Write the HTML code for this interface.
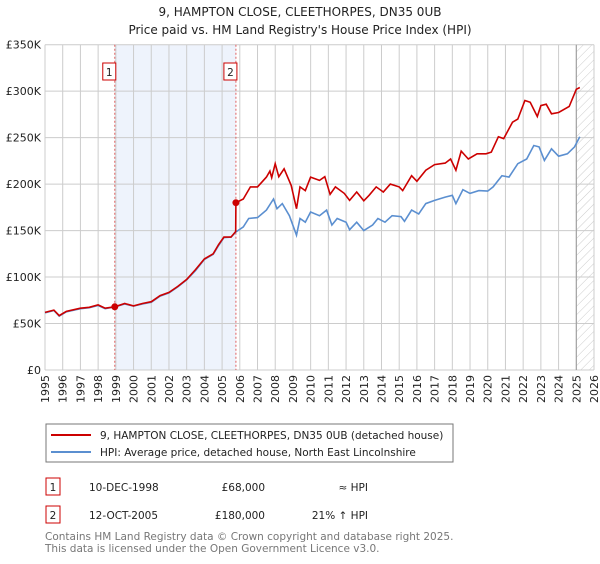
<!DOCTYPE html>
<html><head><meta charset="utf-8"><style>
body{margin:0;background:#fff;font-family:"DejaVu Sans","Liberation Sans",sans-serif;}
svg text{font-family:"DejaVu Sans","Liberation Sans",sans-serif;}
</style></head><body>
<svg id="c" width="600" height="560" xmlns="http://www.w3.org/2000/svg">
<defs><pattern id="hatch" width="6" height="6" patternUnits="userSpaceOnUse" patternTransform="rotate(45)"><line x1="0" y1="0" x2="0" y2="6" stroke="#ccc" stroke-width="1"/></pattern></defs>
<text x="300" y="16" text-anchor="middle" font-size="12" fill="#222">9, HAMPTON CLOSE, CLEETHORPES, DN35 0UB</text>
<text x="300" y="34" text-anchor="middle" font-size="12" fill="#222">Price paid vs. HM Land Registry's House Price Index (HPI)</text>
<g id="plot"></g>
<g>
<rect x="46" y="424" width="407" height="38" fill="#fff" stroke="#777"/>
<line x1="51" y1="435" x2="91" y2="435" stroke="#cc0000" stroke-width="2"/>
<text x="100" y="439" font-size="10.5" fill="#222">9, HAMPTON CLOSE, CLEETHORPES, DN35 0UB (detached house)</text>
<line x1="51" y1="452" x2="91" y2="452" stroke="#5b8fd0" stroke-width="2"/>
<text x="100" y="456" font-size="10.5" fill="#222">HPI: Average price, detached house, North East Lincolnshire</text>
</g>
<g font-size="10.5" fill="#222">
<rect x="46" y="478" width="14" height="17" fill="#fff" stroke="#cc0000"/><text x="53" y="491" text-anchor="middle">1</text>
<text x="89" y="491">10-DEC-1998</text><text x="265" y="491" text-anchor="end">£68,000</text><text x="368" y="491" text-anchor="end">≈ HPI</text>
<rect x="46" y="506" width="14" height="17" fill="#fff" stroke="#cc0000"/><text x="53" y="519" text-anchor="middle">2</text>
<text x="89" y="519">12-OCT-2005</text><text x="265" y="519" text-anchor="end">£180,000</text><text x="368" y="519" text-anchor="end">21% ↑ HPI</text>
</g>
<text x="45" y="540" font-size="10.5" fill="#777">Contains HM Land Registry data © Crown copyright and database right 2025.</text>
<text x="45" y="552" font-size="10.5" fill="#777">This data is licensed under the Open Government Licence v3.0.</text>
</svg>
<script>
const hpiYears=[1995,1995.5,1995.8,1996.2,1997,1997.5,1998,1998.4,1998.94,1999.5,2000,2000.5,2001,2001.5,2002,2002.5,2003,2003.5,2004,2004.5,2004.8,2005.1,2005.5,2005.78,2006.2,2006.5,2007,2007.5,2007.9,2008.1,2008.4,2008.8,2009.2,2009.4,2009.7,2010,2010.5,2010.9,2011.2,2011.5,2012,2012.2,2012.6,2013,2013.5,2013.8,2014.2,2014.6,2015.1,2015.3,2015.7,2016.1,2016.5,2017,2017.6,2018,2018.2,2018.6,2019,2019.5,2020,2020.3,2020.8,2021.2,2021.7,2022.2,2022.6,2022.9,2023.2,2023.6,2024,2024.5,2024.9,2025.2];
const hpiValues=[61.5,64,58,62.6,66,67,69.4,66,68,71,68.7,71,73,79.5,83,89.5,97,107,119,124.5,134,142.5,143,148.5,154,163,164,172,184,173.6,179,166,145,163,159,170,166,172,156,163,159,151,159,150,156,163,159,166,165,160,172,168,179,182.5,186,188,179,194,190,193,192.5,197,209,207.6,222,227,241.6,240,225.5,238,230,232.6,240,251];
const priceYears=[1995,1995.5,1995.8,1996.2,1997,1997.5,1998,1998.4,1998.94,1999.5,2000,2000.5,2001,2001.5,2002,2002.5,2003,2003.5,2004,2004.5,2004.8,2005.1,2005.5,2005.77,2005.78,2006.2,2006.6,2007,2007.5,2007.7,2007.8,2008,2008.2,2008.5,2008.9,2009.2,2009.4,2009.7,2010,2010.5,2010.8,2011.1,2011.4,2011.9,2012.2,2012.6,2013,2013.3,2013.7,2014.1,2014.5,2015,2015.2,2015.7,2016,2016.5,2017,2017.6,2017.9,2018.2,2018.5,2018.9,2019.4,2019.9,2020.2,2020.6,2020.9,2021.4,2021.7,2022.1,2022.4,2022.8,2023,2023.3,2023.6,2024,2024.6,2025,2025.2];
const priceValues=[62,64.5,58.5,63,66.5,67.5,70,66.5,68,71.5,69,71.5,73.5,80,83.5,90,97.5,108,119.5,125,135,143,143,149,180,184,197,197,207.6,214,207,222,208,216.5,198.6,173.6,197,193,207.6,204,208,189,197,190,182.5,191.5,182,188,197,191.5,200,197,193,209,203,215,221,222.6,227,215,235.5,227,232.6,232.6,234.4,251,249,266.6,270,290,288,272.7,284.5,286,275.6,277,283.5,302,304];
const sales=[[1998.94,68],[2005.78,180]];
const yTicks=[0,50,100,150,200,250,300,350];
const xTicks=[];for(let y=1995;y<=2026;y++)xTicks.push(y);
const X0=45,X1=594,Y0=370,Y1=44.7;
const xs=v=>X0+(v-1995)/(2026-1995)*(X1-X0);
const ys=v=>Y0-v/350*(Y0-Y1);
const NS="http://www.w3.org/2000/svg";
const g=document.getElementById('plot');
function mk(t,a,p){const e=document.createElementNS(NS,t);for(const k in a)e.setAttribute(k,a[k]);(p||g).appendChild(e);return e;}
let e;
e=mk('rect',{x:xs(sales[0][0]),y:Y1,width:xs(sales[1][0])-xs(sales[0][0]),height:Y0-Y1,fill:'#eef3fc'});


e=mk('rect',{x:xs(2025),y:Y1,width:X1-xs(2025),height:Y0-Y1,fill:'url(#hatch)'});


xTicks.forEach(t=>{
 e=mk('line',{x1:xs(t),x2:xs(t),y1:Y1,y2:Y0,stroke:'#ccc','stroke-width':1});
 
 
 const tx=xs(t)+4;
 e=mk('text',{x:0,y:0,transform:`translate(${tx},${Y0+5}) rotate(-90)`,'text-anchor':'end','font-size':11,fill:'#222'});
 e.textContent=t;
 
 
});
yTicks.forEach(t=>{
 e=mk('line',{x1:X0,x2:X1,y1:ys(t),y2:ys(t),stroke:'#ccc','stroke-width':1});
 
 
 e=mk('text',{x:X0-4,y:ys(t)+4,'text-anchor':'end','font-size':11,fill:'#222'});
 e.textContent=t===0?'£0':'£'+t+'K';
 
 
});
e=mk('line',{x1:xs(2025),x2:xs(2025),y1:Y1,y2:Y0,stroke:'#999','stroke-width':1});


sales.forEach((s,i)=>{
 e=mk('line',{x1:xs(s[0]),x2:xs(s[0]),y1:Y1,y2:Y0,stroke:'#e06060','stroke-width':1,'stroke-dasharray':'2,2'});
 
 
 e=mk('rect',{x:xs(s[0])-12,y:63,width:13,height:17,fill:'#fff',stroke:'#cc0000'});
 
 
 e=mk('text',{x:xs(s[0])-5.5,y:76,'text-anchor':'middle','font-size':10.5,fill:'#222'});
 e.textContent=i+1;
 
 
});
function pts(a,b){return a.map((x,i)=>xs(x).toFixed(1)+','+ys(b[i]).toFixed(1)).join(' ');}
e=mk('polyline',{points:pts(hpiYears,hpiValues),fill:'none',stroke:'#5b8fd0','stroke-width':1.6});


e=mk('polyline',{points:pts(priceYears,priceValues),fill:'none',stroke:'#cc0000','stroke-width':1.6});


sales.forEach(s=>{
 e=mk('circle',{cx:xs(s[0]),cy:ys(s[1]),r:3.5,fill:'#cc0000'});
 
 
});
</script>
</body></html>
